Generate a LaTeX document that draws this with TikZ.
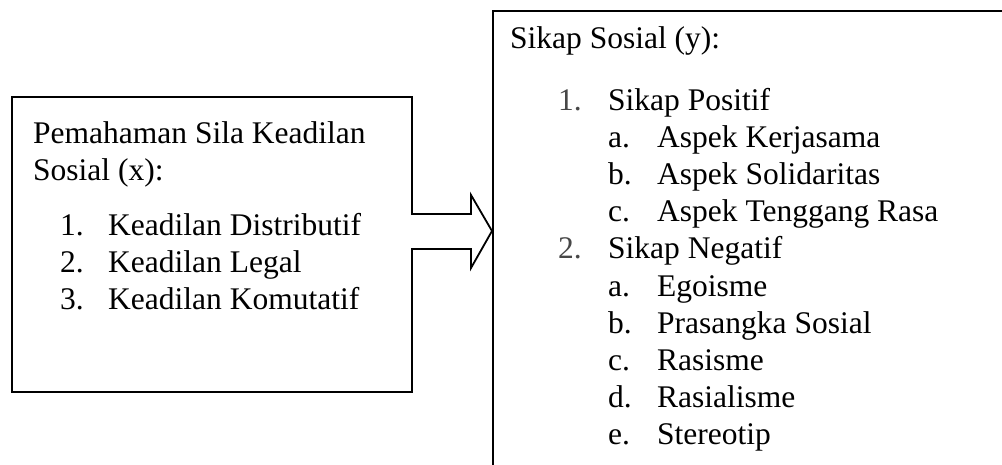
\documentclass[tikz,border=0pt]{standalone}
\usepackage{fontspec}
\setmainfont{Liberation Serif}
\begin{document}
\begin{tikzpicture}[x=1pt,y=-1pt,
  frame/.style={draw=black, line width=1.8pt, anchor=north west, inner sep=0pt},
  txt/.style={anchor=base west, inner sep=0pt, font=\fontsize{31.5}{37}\selectfont},
  num/.style={txt, text=black!72},
  blockarrow/.style={draw=black, line width=1.8pt, line join=miter, fill=white}]
\clip (0,0) rectangle (1002,464);
\fill[white] (0,0) rectangle (1002,464);
% boxes
\node[frame, minimum width=400pt, minimum height=295pt] (L) at (11,96) {};
\node[frame, minimum width=540pt, minimum height=480pt] (R) at (492,10) {};
% arrow
\draw[blockarrow] (411,214) -- (471,214) -- (471,195) -- (492,231) -- (471,268) -- (471,249) -- (411,249);
% left text
\node[txt] (l1) at (33,143) {Pemahaman Sila Keadilan};
\node[txt] (l2) at (33,180) {Sosial (x):};
\node[txt] (ln1) at (60,235) {1.};
\node[txt] (lt1) at (108,235) {Keadilan Distributif};
\node[txt] (ln2) at (60,272) {2.};
\node[txt] (lt2) at (108,272) {Keadilan Legal};
\node[txt] (ln3) at (60,309) {3.};
\node[txt] (lt3) at (108,309) {Keadilan Komutatif};
% right text
\node[txt] (r0) at (510,48) {Sikap Sosial (y):};
\node[num] (rn1) at (558,110) {1.};
\node[txt] (rt1) at (608,110) {Sikap Positif};
\node[txt] (ra1) at (608,147.2) {a.};
\node[txt] (rb1) at (657,147.2) {Aspek Kerjasama};
\node[txt] (ra2) at (608,184.4) {b.};
\node[txt] (rb2) at (657,184.4) {Aspek Solidaritas};
\node[txt] (ra3) at (608,221.6) {c.};
\node[txt] (rb3) at (657,221.6) {Aspek Tenggang Rasa};
\node[num] (rn2) at (558,258.8) {2.};
\node[txt] (rt2) at (608,258.8) {Sikap Negatif};
\node[txt] (rc1) at (608,296) {a.};
\node[txt] (rd1) at (657,296) {Egoisme};
\node[txt] (rc2) at (608,333.2) {b.};
\node[txt] (rd2) at (657,333.2) {Prasangka Sosial};
\node[txt] (rc3) at (608,370.4) {c.};
\node[txt] (rd3) at (657,370.4) {Rasisme};
\node[txt] (rc4) at (608,407.6) {d.};
\node[txt] (rd4) at (657,407.6) {Rasialisme};
\node[txt] (rc5) at (608,444.8) {e.};
\node[txt] (rd5) at (657,444.8) {Stereotip};
\end{tikzpicture}
\end{document}
